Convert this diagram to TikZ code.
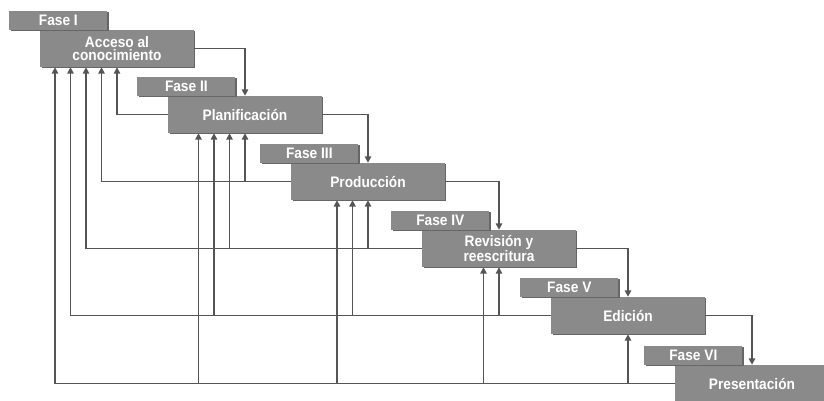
\documentclass[tikz,border=0pt]{standalone}
\usepackage{fontspec}
\setmainfont{Liberation Sans}[FakeStretch=0.9]
\usetikzlibrary{arrows.meta,shadows,calc}

\definecolor{boxgray}{HTML}{8A8A8A}
\definecolor{linegray}{HTML}{555555}

\begin{document}
\begin{tikzpicture}[
  x=0.03cm, y=-0.03cm,
  font=\bfseries\fontsize{13}{11.5}\selectfont,
  % Node Styles
  phase/.style={fill=boxgray, text=white, align=center, inner sep=0pt, minimum width=4.6cm, minimum height=1.11cm,
    drop shadow={shadow xshift=1pt, shadow yshift=-1pt, fill=black!60, opacity=1}},
  tag/.style={fill=boxgray, text=white, inner sep=0pt, minimum width=2.94cm, minimum height=0.57cm, anchor=south west,
    drop shadow={shadow xshift=1pt, shadow yshift=-1pt, fill=black!60, opacity=1}},
  % Line Styles
  fwd_line/.style={-{Triangle[length=5.5pt,width=5.5pt]}, line width=1.5pt, linegray},
  back_line/.style={-{Triangle[length=5.5pt,width=5.5pt]}, line width=1.5pt, linegray}
]
\useasboundingbox (0,0) rectangle (824,401);

% ================= PHASES =================
\node[phase] (acc)  at (117,48.5)  {Acceso al\\conocimiento};
\node[phase] (plan) at (245,114.5) {Planificación};
\node[phase] (prod) at (368,181.5) {Producción};
\node[phase] (rev)  at (499,248.5) {Revisión y\\reescritura};
\node[phase] (ed)   at (628,315.5) {Edición};
\node[phase] (pres) at (752,383.5) {Presentación};

% --- Phase tags ---
\node[tag] (f1) at ($(acc.north west)+(-31,0)$)  {Fase I};
\node[tag] (f2) at ($(plan.north west)+(-31,0)$) {Fase II};
\node[tag] (f3) at ($(prod.north west)+(-31,0)$) {Fase III};
\node[tag] (f4) at ($(rev.north west)+(-31,0)$)  {Fase IV};
\node[tag] (f5) at ($(ed.north west)+(-31,0)$)   {Fase V};
\node[tag] (f6) at ($(pres.north west)+(-31,0)$) {Fase VI};

% ================= CONNECTIONS =================

% 1. Forward flow
\draw[fwd_line] (acc.east)  -| (plan.north);
\draw[fwd_line] (plan.east) -| (prod.north);
\draw[fwd_line] (prod.east) -| (rev.north);
\draw[fwd_line] (rev.east)  -| (ed.north);
\draw[fwd_line] (ed.east)   -| (pres.north);

% 2. Feedback from Planificacion
\draw[back_line] (plan.west) -| (acc.south);

% 3. Feedback from Produccion
\draw[back_line] (prod.west) -| ($(acc.south)+(-15.5,0)$);
\draw[back_line] (prod.west) -| (plan.south);

% 4. Feedback from Revision
\draw[back_line] (rev.west) -| ($(acc.south)+(-31,0)$);
\draw[back_line] (rev.west) -| ($(plan.south)+(-15.5,0)$);
\draw[back_line] (rev.west) -| (prod.south);

% 5. Feedback from Edicion
\draw[back_line] (ed.west) -| ($(acc.south)+(-46.5,0)$);
\draw[back_line] (ed.west) -| ($(plan.south)+(-31,0)$);
\draw[back_line] (ed.west) -| ($(prod.south)+(-15.5,0)$);
\draw[back_line] (ed.west) -| (rev.south);

% 6. Feedback from Presentacion
\draw[back_line] (pres.west) -| ($(acc.south)+(-62,0)$);
\draw[back_line] (pres.west) -| ($(plan.south)+(-46.5,0)$);
\draw[back_line] (pres.west) -| ($(prod.south)+(-31,0)$);
\draw[back_line] (pres.west) -| ($(rev.south)+(-15.5,0)$);
\draw[back_line] (pres.west) -| (ed.south);

\end{tikzpicture}
\end{document}
